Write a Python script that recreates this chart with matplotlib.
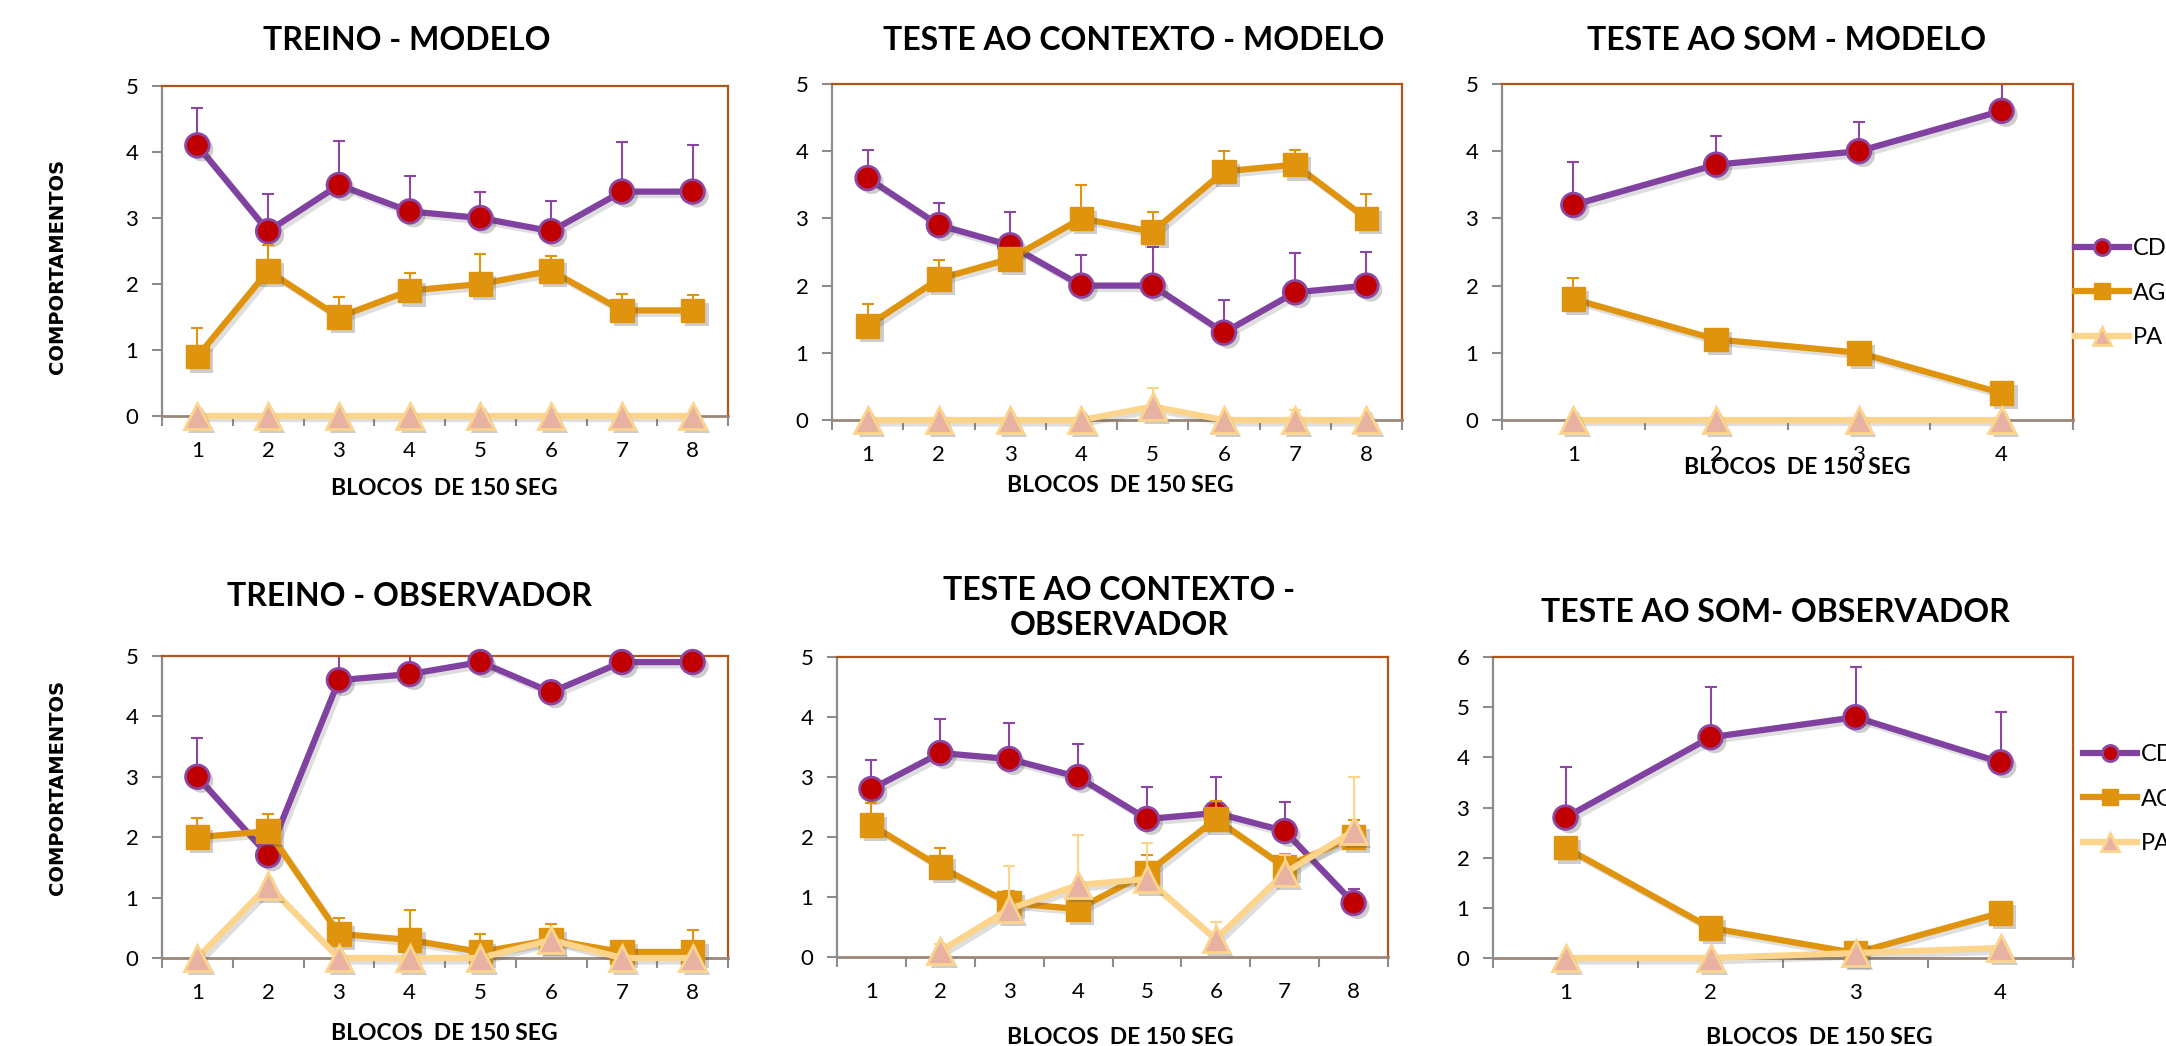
import numpy as np
import matplotlib
matplotlib.use('Agg')
import matplotlib.pyplot as plt
import matplotlib.patheffects as pe
from matplotlib.lines import Line2D

W, H = 2166, 1046

# blocos de 150 seg
blocks8 = [1, 2, 3, 4, 5, 6, 7, 8]
blocks4 = [1, 2, 3, 4]
series_names = ['CD', 'AG', 'PA']

# TREINO - MODELO
tm_cd = [4.1, 2.8, 3.5, 3.1, 3.0, 2.8, 3.4, 3.4]
tm_cd_err = [0.57, 0.57, 0.67, 0.53, 0.40, 0.46, 0.75, 0.70]
tm_ag = [0.9, 2.2, 1.5, 1.9, 2.0, 2.2, 1.6, 1.6]
tm_ag_err = [0.43, 0.39, 0.31, 0.27, 0.46, 0.23, 0.25, 0.23]
tm_pa = [0, 0, 0, 0, 0, 0, 0, 0]
tm_pa_err = [0, 0, 0, 0, 0, 0, 0, 0]

# TESTE AO CONTEXTO - MODELO
cm_cd = [3.6, 2.9, 2.6, 2.0, 2.0, 1.3, 1.9, 2.0]
cm_cd_err = [0.42, 0.33, 0.50, 0.45, 0.58, 0.49, 0.59, 0.50]
cm_ag = [1.4, 2.1, 2.4, 3.0, 2.8, 3.7, 3.8, 3.0]
cm_ag_err = [0.32, 0.28, 0.10, 0.50, 0.30, 0.30, 0.22, 0.37]
cm_pa = [0, 0, 0, 0, 0.2, 0, 0, 0]
cm_pa_err = [0, 0, 0, 0, 0.28, 0, 0.15, 0]

# TESTE AO SOM - MODELO
sm_cd = [3.2, 3.8, 4.0, 4.6]
sm_cd_err = [0.64, 0.43, 0.43, 0.40]
sm_ag = [1.8, 1.2, 1.0, 0.4]
sm_ag_err = [0.32, 0.10, 0.10, 0.10]
sm_pa = [0, 0, 0, 0]
sm_pa_err = [0, 0, 0, 0]

# TREINO - OBSERVADOR
to_cd = [3.0, 1.7, 4.6, 4.7, 4.9, 4.4, 4.9, 4.9]
to_cd_err = [0.64, 0.10, 0.40, 0.30, 0.10, 0.10, 0.10, 0.10]
to_ag = [2.0, 2.1, 0.4, 0.3, 0.1, 0.3, 0.1, 0.1]
to_ag_err = [0.32, 0.28, 0.27, 0.49, 0.30, 0.27, 0.15, 0.37]
to_pa = [0, 1.2, 0, 0, 0, 0.3, 0, 0]
to_pa_err = [0, 0, 0, 0, 0, 0, 0, 0]

# TESTE AO CONTEXTO - OBSERVADOR
co_cd = [2.8, 3.4, 3.3, 3.0, 2.3, 2.4, 2.1, 0.9]
co_cd_err = [0.49, 0.56, 0.60, 0.55, 0.54, 0.60, 0.48, 0.23]
co_ag = [2.2, 1.5, 0.9, 0.8, 1.4, 2.3, 1.5, 2.0]
co_ag_err = [0.36, 0.32, 0.20, 0.20, 0.30, 0.30, 0.22, 0.28]
co_pa = [np.nan, 0.1, 0.8, 1.2, 1.3, 0.3, 1.4, 2.1]
co_pa_err = [0, 0.12, 0.71, 0.83, 0.60, 0.29, 0.30, 0.90]

# TESTE AO SOM - OBSERVADOR
so_cd = [2.8, 4.4, 4.8, 3.9]
so_cd_err = [1.0, 1.0, 1.0, 1.0]
so_ag = [2.2, 0.6, 0.1, 0.9]
so_ag_err = [0, 0, 0, 0]
so_pa = [0, 0, 0.1, 0.2]
so_pa_err = [0, 0, 0, 0]

plt.rcParams['font.family'] = ['Lato', 'DejaVu Sans']

styles = [
    dict(color='#8041A0', marker='o', ms=17, mfc='#C00000', mec='#8B47A3', mew=2),
    dict(color='#E0930C', marker='s', ms=17, mfc='#E0930C', mec='#E0930C', mew=1),
    dict(color='#FCD48C', marker='^', ms=19, mfc='#E8B2A2', mec='#FCD48C', mew=2),
]


def fx(x):
    return x / W


def fy(y):
    return 1 - y / H


def make_axes(fig, box):
    x0, y0, x1, y1 = box
    return fig.add_axes([fx(x0), fy(y1), (x1 - x0) / W, (y1 - y0) / H])


def draw_panel(ax, blocks, data, ymax):
    n = len(blocks)
    for k, (vals, err) in enumerate(data):
        st = styles[k]
        lo = np.zeros(len(err))
        ax.errorbar(blocks, vals, yerr=[lo, err], fmt='none', ecolor=st['mec'] if k == 0 else st['color'],
                    elinewidth=1.5, capsize=4, capthick=1.5, zorder=2 + 3 * k)
        ax.plot(blocks, vals, color=st['color'], lw=4.5, solid_capstyle='round', clip_on=False,
                zorder=3 + 3 * k,
                path_effects=[pe.SimpleLineShadow(offset=(2.5, -2.5), shadow_color='0.3', alpha=0.18),
                              pe.Normal()])
        ax.plot(blocks, vals, ls='none', marker=st['marker'], ms=st['ms'], mfc=st['mfc'],
                mec=st['mec'], mew=st['mew'], clip_on=False, zorder=4 + 3 * k,
                path_effects=[pe.SimplePatchShadow(offset=(3, -3), shadow_rgbFace='0.3', alpha=0.28),
                              pe.Normal()])
    ax.set_xlim(0.5, n + 0.5)
    ax.set_ylim(0, ymax)
    ax.set_yticks(range(ymax + 1))
    ax.set_xticks(np.arange(0.5, n + 1, 1.0))
    ax.set_xticklabels([])
    ax.set_xticks(blocks, minor=True)
    ax.set_xticklabels([str(b) for b in blocks], minor=True)
    ax.tick_params(axis='x', which='major', direction='out', length=7, width=1.5, color='#8C8C8C')
    ax.tick_params(axis='x', which='minor', length=0, pad=18, labelsize=16)
    ax.tick_params(axis='y', direction='out', length=7, width=1.5, color='#8C8C8C', pad=10, labelsize=16)
    ax.spines['left'].set_color('#8C8C8C')
    ax.spines['left'].set_linewidth(1.6)
    ax.spines['bottom'].set_color('#9A877A')
    ax.spines['bottom'].set_linewidth(2)
    for s in ('top', 'right'):
        ax.spines[s].set_color('#B0561A')
        ax.spines[s].set_linewidth(1.6)


def legend_for(fig, ax, x, y):
    handles = []
    for st in styles:
        handles.append(Line2D([0], [0], color=st['color'], lw=4.5, marker=st['marker'],
                              ms=st['ms'] * 0.68, mfc=st['mfc'], mec=st['mec'], mew=st['mew']))
    ax.legend(handles, series_names, loc='upper left', bbox_to_anchor=(fx(x), fy(y)),
              bbox_transform=fig.transFigure, frameon=False, fontsize=17,
              handlelength=2.3, handletextpad=0.15, labelspacing=1.0, borderpad=0, borderaxespad=0)


fig = plt.figure(figsize=(W / 100, H / 100), dpi=100)

panels = [
    ('TREINO - MODELO', (162, 86, 728, 416), blocks8,
     [(tm_cd, tm_cd_err), (tm_ag, tm_ag_err), (tm_pa, tm_pa_err)], 5, (407, 40), (444, 488)),
    ('TESTE AO CONTEXTO - MODELO', (832, 84, 1402, 420), blocks8,
     [(cm_cd, cm_cd_err), (cm_ag, cm_ag_err), (cm_pa, cm_pa_err)], 5, (1134, 40), (1120, 485)),
    ('TESTE AO SOM - MODELO', (1502, 84, 2073, 420), blocks4,
     [(sm_cd, sm_cd_err), (sm_ag, sm_ag_err), (sm_pa, sm_pa_err)], 5, (1787, 40), (1797, 467)),
    ('TREINO - OBSERVADOR', (162, 656, 728, 958), blocks8,
     [(to_cd, to_cd_err), (to_ag, to_ag_err), (to_pa, to_pa_err)], 5, (409, 597), (444, 1033)),
    ('TESTE AO CONTEXTO -\nOBSERVADOR', (837, 657, 1388, 957), blocks8,
     [(co_cd, co_cd_err), (co_ag, co_ag_err), (co_pa, co_pa_err)], 5, (1119, 608), (1120, 1037)),
    ('TESTE AO SOM- OBSERVADOR', (1493, 657, 2073, 958), blocks4,
     [(so_cd, so_cd_err), (so_ag, so_ag_err), (so_pa, so_pa_err)], 6, (1775, 612), (1819, 1037)),
]

axes = []
for title, box, blocks, data, ymax, tpos, xpos in panels:
    ax = make_axes(fig, box)
    draw_panel(ax, blocks, data, ymax)
    fig.text(fx(tpos[0]), fy(tpos[1]), title, ha='center', va='center', fontsize=23,
             fontweight='bold', linespacing=1.25)
    fig.text(fx(xpos[0]), fy(xpos[1]), 'BLOCOS  DE 150 SEG', ha='center', va='center',
             fontsize=16.5, fontweight='bold')
    axes.append(ax)

for yc in (266, 787):
    fig.text(fx(58), fy(yc), 'COMPORTAMENTOS', rotation=90, ha='center', va='center',
             fontsize=14, fontweight='bold', family='DejaVu Sans')

legend_for(fig, axes[2], 2075, 238)
legend_for(fig, axes[5], 2083, 744)

fig.savefig('out.png', dpi=100)
